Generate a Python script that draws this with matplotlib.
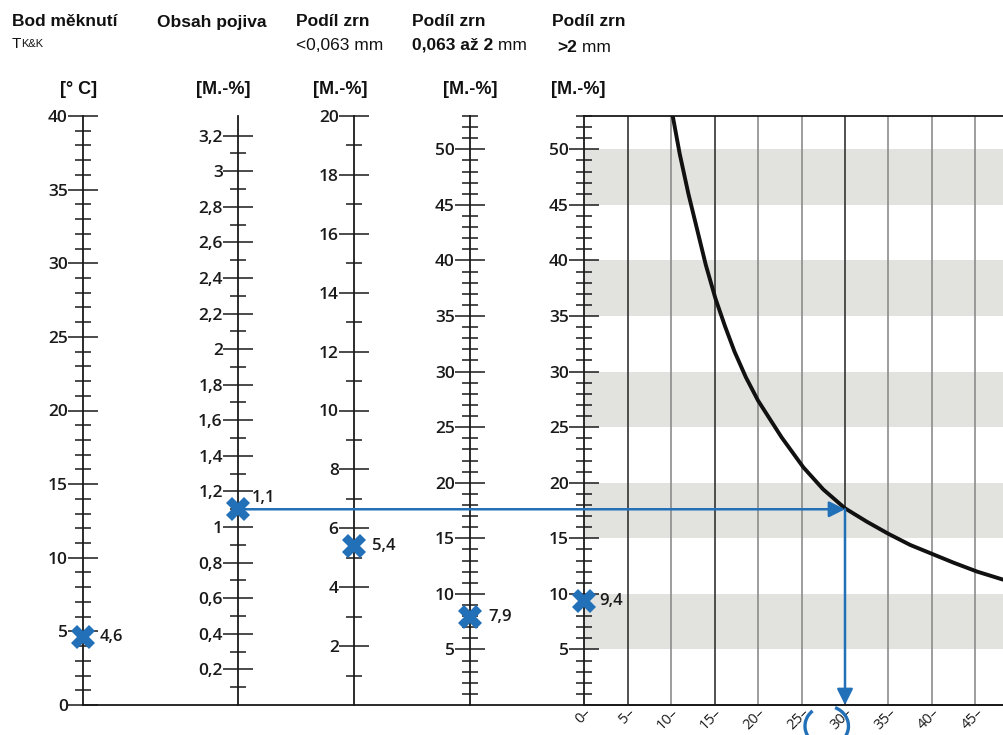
import numpy as np
import matplotlib
matplotlib.use("Agg")
import matplotlib.pyplot as plt
from matplotlib.ticker import FixedLocator, FuncFormatter
from matplotlib.patches import Arc
from matplotlib.lines import Line2D

# Data
temp_major = [0, 5, 10, 15, 20, 25, 30, 35, 40]
binder_major = [0.2, 0.4, 0.6, 0.8, 1.0, 1.2, 1.4, 1.6, 1.8, 2.0, 2.2, 2.4, 2.6, 2.8, 3.0, 3.2]
fines_major = [2, 4, 6, 8, 10, 12, 14, 16, 18, 20]
grain_major = [5, 10, 15, 20, 25, 30, 35, 40, 45, 50]
result_ticks = [0, 5, 10, 15, 20, 25, 30, 35, 40, 45, 50]
band_starts = [5, 15, 25, 35, 45]

# measured values on the five scales
measured = [4.6, 1.1, 5.4, 7.9, 9.4]
measured_labels = ["4,6", "1,1", "5,4", "7,9", "9,4"]

# black curve in the right-hand diagram
curve_x = [10.2, 11.0, 12.0, 13.0, 14.0, 15.1, 16.2, 17.3, 18.6, 20.0, 22.7, 25.2, 27.5,
           30.0, 32.5, 35.0, 37.5, 40.0, 42.5, 45.2, 48.5, 50.0]
curve_y = [53.0, 49.6, 46.0, 42.8, 39.6, 36.6, 34.1, 31.8, 29.5, 27.4, 24.1, 21.4, 19.4,
           17.7, 16.5, 15.4, 14.4, 13.6, 12.8, 12.0, 11.2, 10.9]
result_value = 30

BLUE = "#2270b8"
INK = "#1a1a1a"
TICK_FONT = "Open Sans"
HEAD_FONT = "Liberation Sans"

W, H = 1004, 735
fig = plt.figure(figsize=(W / 100, H / 100), dpi=100)
bottom = 1 - 705 / H
height = 589 / H


def comma(v, pos=None):
    return f"{v:g}".replace(".", ",")


def style_ticks(ax, major, minor):
    ax.yaxis.set_major_locator(FixedLocator(major))
    ax.yaxis.set_minor_locator(FixedLocator(minor))
    ax.yaxis.set_major_formatter(FuncFormatter(comma))
    ax.tick_params(axis="y", which="major", direction="inout", length=22, width=1.1,
                   labelsize=12.5, pad=0, colors=INK)
    ax.tick_params(axis="y", which="minor", direction="inout", length=12, width=1.1, color=INK)
    for lab in ax.get_yticklabels():
        lab.set_fontfamily(TICK_FONT)
        lab.set_fontweight("semibold")


def scale_axis(xpx, top, major, minor):
    ax = fig.add_axes([xpx / W, bottom, 0.0005, height])
    ax.set_ylim(0, top)
    ax.set_xlim(0, 1)
    for s in ["top", "right", "bottom"]:
        ax.spines[s].set_visible(False)
    ax.spines["left"].set_linewidth(1.3)
    ax.spines["left"].set_color(INK)
    ax.set_xticks([])
    ax.patch.set_visible(False)
    style_ticks(ax, major, minor)
    return ax


ax_temp = scale_axis(83, 40, temp_major, [v for v in range(1, 40) if v % 5])
ax_bind = scale_axis(238, 3.31, binder_major, [round(0.1 * k, 1) for k in range(1, 33, 2)])
ax_fine = scale_axis(354, 20, fines_major, list(range(1, 20, 2)))
ax_grain = scale_axis(470, 53, grain_major, [v for v in range(1, 54) if v % 5])

# main diagram (scale >2 mm on its left edge)
ax = fig.add_axes([584 / W, bottom, 435 / W, height])
ax.set_xlim(0, 50)
ax.set_ylim(0, 53)
for lo in band_starts:
    ax.axhspan(lo, lo + 5, color="#e2e3df", lw=0, zorder=0)
for v in result_ticks[1:]:
    dark = v in (5, 15, 30)
    ax.axvline(v, color="#333333" if dark else "#8c8c8c", lw=1.2, zorder=1)
ax.spines["right"].set_visible(False)
for s in ["left", "top", "bottom"]:
    ax.spines[s].set_linewidth(1.3)
    ax.spines[s].set_color(INK)
style_ticks(ax, grain_major, [v for v in range(1, 54) if v % 5])
ax.yaxis.set_major_formatter(FuncFormatter(lambda v, p: f"{v:g}"))
ax.set_xticks(result_ticks)
ax.set_xticklabels([f"{v}\u2013" for v in result_ticks])
ax.tick_params(axis="x", length=0, pad=0, labelsize=10.5, colors=INK)
for lab in ax.get_xticklabels():
    lab.set_rotation(45)
    lab.set_ha("right")
    lab.set_va("top")
    lab.set_rotation_mode("anchor")
    lab.set_fontfamily(TICK_FONT)

ax.plot(curve_x, curve_y, color="#111111", lw=2.8, zorder=3, solid_joinstyle="round")

# baseline running under all scales
fig.add_artist(Line2D([83 / W, 1], [bottom, bottom], color=INK, lw=1.3))

# reading path: binder content -> curve -> result
fig.canvas.draw()
disp = ax_bind.transData.transform((0, measured[1]))
x_start, y_hit = ax.transData.inverted().transform(disp)
ax.annotate("", xy=(result_value, y_hit), xytext=(x_start, y_hit),
            arrowprops=dict(arrowstyle="-|>", color=BLUE, lw=1.8, mutation_scale=24,
                            shrinkA=0, shrinkB=0),
            annotation_clip=False, zorder=4)
ax.annotate("", xy=(result_value, 0), xytext=(result_value, y_hit),
            arrowprops=dict(arrowstyle="-|>", color=BLUE, lw=1.8, mutation_scale=24,
                            shrinkA=0, shrinkB=0),
            annotation_clip=False, zorder=4)
ax.add_patch(Arc((27.9, -1.9), 5.0, 3.6, theta1=140, theta2=420, color=BLUE, lw=2.4,
                 clip_on=False, zorder=5))

# measured points
label_offsets = [(12, 0), (10, 8), (13, 0), (13, 0), (11, 0)]
for a, val, txt, off in zip([ax_temp, ax_bind, ax_fine, ax_grain, ax], measured,
                            measured_labels, label_offsets):
    a.plot([0], [val], marker="X", markersize=17, color=BLUE, mew=0, clip_on=False, zorder=6)
    a.annotate(txt, xy=(0, val), xytext=off, textcoords="offset points", ha="left",
               va="center", fontsize=12, family=TICK_FONT, fontweight="semibold",
               color=INK, annotation_clip=False, zorder=6)


# headers
def head(xpx, ypx, s, size=12.5, weight="bold"):
    return fig.text(xpx / W, 1 - ypx / H, s, fontsize=size, fontweight=weight,
                    family=HEAD_FONT, ha="left", va="center", color="#111111")


def tail(anchor, s, size=12.5, weight="normal", ypos=0.5, va="center"):
    ax.annotate(s, xy=(1, ypos), xycoords=anchor, fontsize=size, fontweight=weight,
                family=HEAD_FONT, ha="left", va=va, color="#111111", annotation_clip=False)


head(12, 22, "Bod měknutí")
t = head(12, 44, "T", size=11, weight="normal")
tail(t, "K&K", size=8, ypos=0.15, va="bottom")
head(157, 22, "Obsah pojiva")
head(296, 22, "Podíl zrn")
head(296, 45, "<0,063 mm", weight="normal")
head(412, 22, "Podíl zrn")
t = head(412, 45, "0,063 až 2")
tail(t, " mm")
head(552, 22, "Podíl zrn")
t = head(557, 47, ">2")
tail(t, " mm")

units = ["[° C]", "[M.-%]", "[M.-%]", "[M.-%]", "[M.-%]"]
for cx, s in zip([79, 223, 340, 470, 578], units):
    fig.text(cx / W, 1 - 90 / H, s, fontsize=13, family=HEAD_FONT, ha="center",
             va="center", color="#111111", fontweight="bold")

fig.savefig("out.png", dpi=100, facecolor="white")
